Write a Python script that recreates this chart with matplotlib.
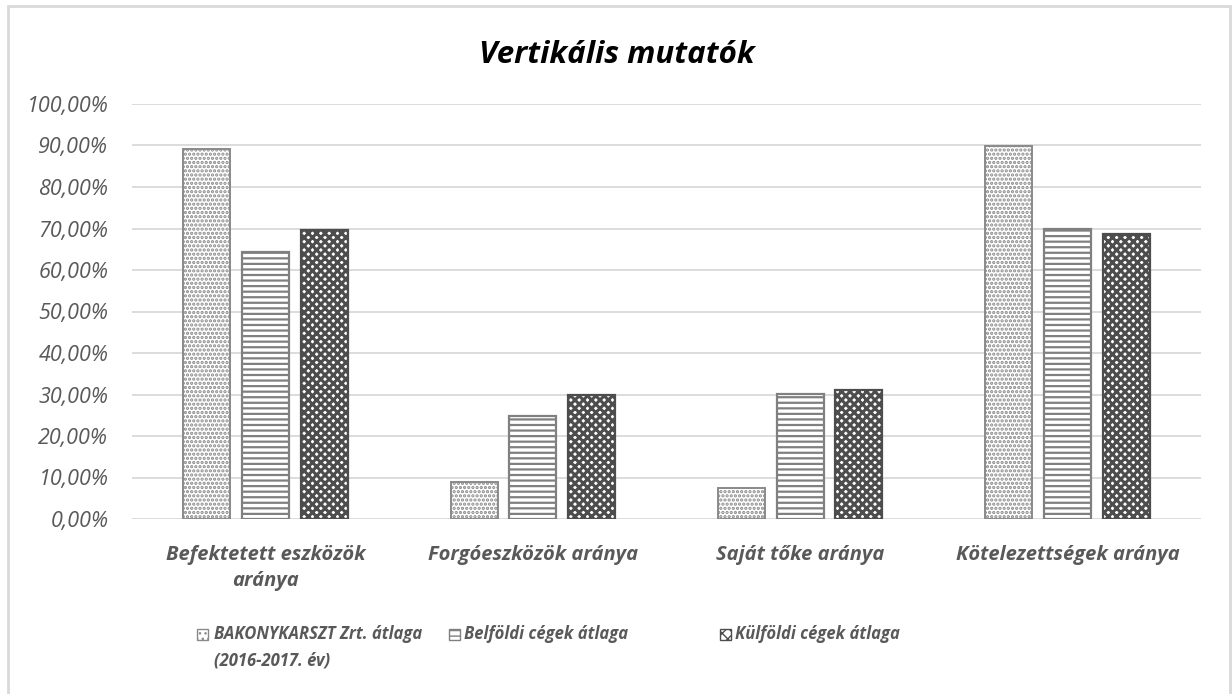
import matplotlib
matplotlib.use('Agg')
import matplotlib.pyplot as plt
import numpy as np
from matplotlib.patches import Rectangle
from matplotlib.ticker import FuncFormatter

categories = ["Befektetett eszközök\naránya", "Forgóeszközök aránya",
              "Saját tőke aránya", "Kötelezettségek aránya"]
series_names = ["BAKONYKARSZT Zrt. átlaga\n(2016-2017. év)",
                "Belföldi cégek átlaga", "Külföldi cégek átlaga"]
bakony = [89.2, 9.0, 7.4, 89.9]
belfoldi = [64.4, 24.7, 30.2, 70.0]
kulfoldi = [69.7, 29.9, 31.1, 68.7]
yticks = [0, 10, 20, 30, 40, 50, 60, 70, 80, 90, 100]

plt.rcParams['font.family'] = ['Open Sans', 'DejaVu Sans']

W, H = 1232, 694
fig = plt.figure(figsize=(W / 100, H / 100), dpi=100)
ax = fig.add_axes([132 / W, 1 - 519 / H, (1201 - 132) / W, (519 - 104) / H])

x = np.arange(len(categories))
width = 0.176
step = 0.22
styles = [
    dict(hatch='....', edgecolor='#8a8a8a', linewidth=1.4),
    dict(hatch='---', edgecolor='#808080', linewidth=1.6),
    dict(hatch='xxxx', edgecolor='#4d4d4d', linewidth=1.6),
]
hatch_lw = [1.6, 1.6, 2.2]
data = [bakony, belfoldi, kulfoldi]
for i, (vals, st) in enumerate(zip(data, styles)):
    with plt.rc_context({'hatch.linewidth': hatch_lw[i]}):
        ax.bar(x + (i - 1) * step, vals, width, facecolor='white', zorder=3, **st)

ax.set_xlim(-0.5, len(categories) - 0.5)
ax.set_ylim(0, 100)
ax.set_yticks(yticks)
ax.yaxis.set_major_formatter(FuncFormatter(lambda v, p: f"{v:.2f}%".replace('.', ',')))
ax.grid(axis='y', color='#d9d9d9', linewidth=1.3, zorder=0)
for s in ax.spines.values():
    s.set_visible(False)
ax.tick_params(axis='y', length=0, pad=17, labelsize=15.5, labelcolor='#595959')
for lab in ax.get_yticklabels():
    lab.set_fontstyle('italic')
ax.set_xticks(x)
ax.set_xticklabels(categories, fontsize=14.5, fontstyle='italic', fontweight='bold',
                   color='#595959', linespacing=1.4)
ax.tick_params(axis='x', length=0, pad=19)

fig.text(617 / W, 1 - 55 / H, "Vertikális mutatók", ha='center', va='center',
         fontsize=22.5, fontweight='bold', fontstyle='italic', color='black')

# legend
leg_x = [197, 449, 720]
txt_x = [214, 464, 735]
top_y = 625
for i in range(3):
    st = styles[i]
    with plt.rc_context({'hatch.linewidth': 1.0}):
        fig.add_artist(Rectangle((leg_x[i] / W, 1 - 640 / H), 11 / W, 11 / H,
                                 transform=fig.transFigure, facecolor='white',
                                 hatch=st['hatch'][:3], edgecolor=st['edgecolor'], linewidth=1))
    fig.text(txt_x[i] / W, 1 - top_y / H, series_names[i], ha='left', va='top',
             fontsize=12, fontstyle='italic', fontweight='bold', color='#595959',
             linespacing=1.6)

fig.add_artist(Rectangle((8 / W, -0.05), (1230 - 8) / W, 1 - 6 / H + 0.05,
                         transform=fig.transFigure, fill=False,
                         edgecolor='#d9d9d9', linewidth=2))

fig.savefig('out.png', dpi=100, facecolor='white')
